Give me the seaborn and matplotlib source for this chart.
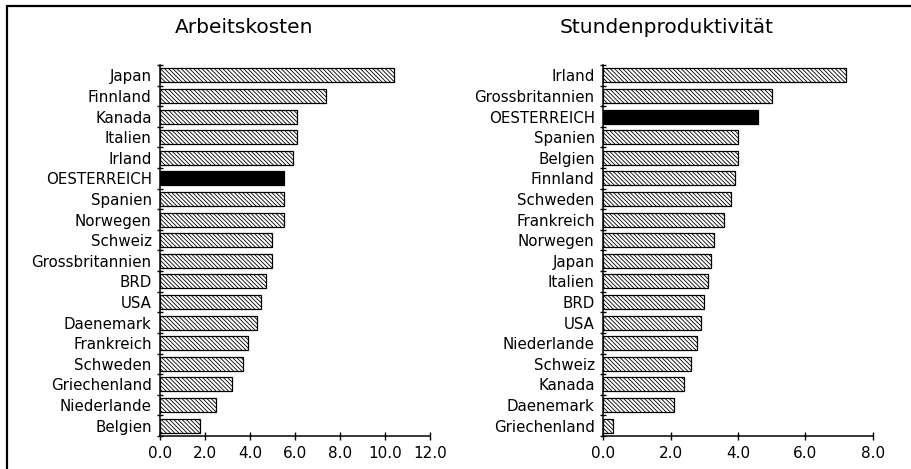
import numpy as np
import pandas as pd
import seaborn as sns
import matplotlib.pyplot as plt
from matplotlib.lines import Line2D

# Arbeitskosten (sorted as in the original chart, top to bottom)
kosten_laender = ['Japan', 'Finnland', 'Kanada', 'Italien', 'Irland', 'OESTERREICH',
                  'Spanien', 'Norwegen', 'Schweiz', 'Grossbritannien', 'BRD', 'USA',
                  'Daenemark', 'Frankreich', 'Schweden', 'Griechenland', 'Niederlande',
                  'Belgien']
kosten_werte = [10.4, 7.4, 6.1, 6.1, 5.9, 5.5, 5.5, 5.5, 5.0, 5.0, 4.7, 4.5,
                4.3, 3.9, 3.7, 3.2, 2.5, 1.8]
kosten_ticks = [0.0, 2.0, 4.0, 6.0, 8.0, 10.0, 12.0]

# Stundenproduktivitaet
prod_laender = ['Irland', 'Grossbritannien', 'OESTERREICH', 'Spanien', 'Belgien',
                'Finnland', 'Schweden', 'Frankreich', 'Norwegen', 'Japan', 'Italien',
                'BRD', 'USA', 'Niederlande', 'Schweiz', 'Kanada', 'Daenemark',
                'Griechenland']
prod_werte = [7.2, 5.0, 4.6, 4.0, 4.0, 3.9, 3.8, 3.6, 3.3, 3.2, 3.1, 3.0, 2.9,
              2.8, 2.6, 2.4, 2.1, 0.3]
prod_ticks = [0.0, 2.0, 4.0, 6.0, 8.0]

sns.set_style('white')
plt.rcParams['font.family'] = ['DejaVu Sans']
plt.rcParams['text.color'] = 'black'
plt.rcParams['xtick.color'] = 'black'
plt.rcParams['ytick.color'] = 'black'
plt.rcParams['hatch.linewidth'] = 0.6
plt.rcParams['hatch.color'] = 'black'

fig = plt.figure(figsize=(9.12, 4.69), dpi=100)
ax1 = fig.add_axes([0.1754, 0.0704, 0.296, 0.791])
ax2 = fig.add_axes([0.6612, 0.0704, 0.296, 0.791])


def draw_panel(ax, laender, werte, ticks):
    df = pd.DataFrame({'land': laender, 'wert': werte})
    palette = {l: ('black' if l == 'OESTERREICH' else 'white') for l in laender}
    sns.barplot(data=df, x='wert', y='land', hue='land', palette=palette,
                order=laender, hue_order=laender, legend=False, width=0.68,
                edgecolor='black', linewidth=0.9, saturation=1, ax=ax)
    for patch in ax.patches:
        if patch.get_facecolor()[0] > 0.5:
            patch.set_hatch('\\\\\\\\\\\\\\\\')
    ax.set_xlim(0, ticks[-1])
    ax.set_ylim(len(laender) - 0.5, -0.5)
    ax.set_xticks(ticks)
    ax.set_xticklabels([f'{t:.1f}' for t in ticks], fontsize=11)
    ax.set_yticks(np.arange(len(laender)))
    ax.set_yticklabels(laender, fontsize=10.8)
    ax.set_yticks(np.arange(len(laender) + 1) - 0.5, minor=True)
    ax.tick_params(axis='y', which='major', length=0, pad=6)
    ax.tick_params(axis='y', which='minor', length=5, width=1, direction='inout', left=True)
    ax.tick_params(axis='x', which='major', length=6, width=1, direction='inout',
                   bottom=True, pad=4)
    ax.set_xlabel('')
    ax.set_ylabel('')
    for s in ['top', 'right']:
        ax.spines[s].set_visible(False)
    for s in ['left', 'bottom']:
        ax.spines[s].set_color('black')
        ax.spines[s].set_linewidth(1.1)


draw_panel(ax1, kosten_laender, kosten_werte, kosten_ticks)
draw_panel(ax2, prod_laender, prod_werte, prod_ticks)

fig.text(0.268, 0.942, 'Arbeitskosten', ha='center', va='center', fontsize=14.5)
fig.text(0.731, 0.942, 'Stundenproduktivität', ha='center', va='center', fontsize=14.5)

# frame lines along top and left edge
fig.add_artist(Line2D([0.0077, 1.0], [0.987, 0.987], color='black', lw=1.6,
                      transform=fig.transFigure))
fig.add_artist(Line2D([0.0077, 0.0077], [0.0, 0.987], color='black', lw=1.6,
                      transform=fig.transFigure))

fig.savefig('out.png', dpi=100)
